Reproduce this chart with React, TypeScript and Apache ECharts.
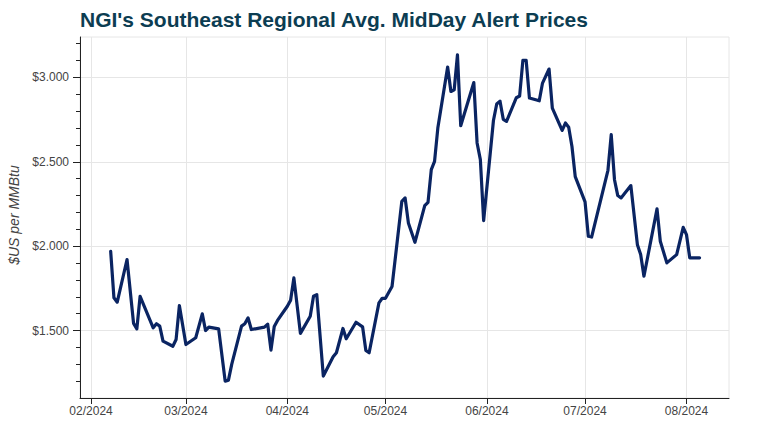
import { useEffect, useRef } from 'react';
import * as echarts from 'echarts';

const dates = [
  '2024-02-07', '2024-02-08', '2024-02-09', '2024-02-12', '2024-02-14', '2024-02-15', '2024-02-16',
  '2024-02-20', '2024-02-21', '2024-02-22', '2024-02-23', '2024-02-26', '2024-02-27', '2024-02-28',
  '2024-03-01', '2024-03-04', '2024-03-06', '2024-03-07', '2024-03-08', '2024-03-11', '2024-03-13',
  '2024-03-14', '2024-03-15', '2024-03-18', '2024-03-19', '2024-03-20', '2024-03-21', '2024-03-25',
  '2024-03-26', '2024-03-27', '2024-03-28', '2024-03-29', '2024-04-01', '2024-04-02', '2024-04-03',
  '2024-04-05', '2024-04-08', '2024-04-09', '2024-04-10', '2024-04-12', '2024-04-15', '2024-04-16',
  '2024-04-18', '2024-04-19', '2024-04-22', '2024-04-24', '2024-04-25', '2024-04-26', '2024-04-29',
  '2024-04-30', '2024-05-01', '2024-05-03', '2024-05-06', '2024-05-07', '2024-05-08', '2024-05-10',
  '2024-05-13', '2024-05-14', '2024-05-15', '2024-05-16', '2024-05-17', '2024-05-20', '2024-05-21',
  '2024-05-22', '2024-05-23', '2024-05-24', '2024-05-28', '2024-05-29', '2024-05-30', '2024-05-31',
  '2024-06-03', '2024-06-04', '2024-06-05', '2024-06-06', '2024-06-07', '2024-06-10', '2024-06-11',
  '2024-06-12', '2024-06-13', '2024-06-14', '2024-06-17', '2024-06-18', '2024-06-20', '2024-06-21',
  '2024-06-24', '2024-06-25', '2024-06-26', '2024-06-27', '2024-06-28', '2024-07-01', '2024-07-02',
  '2024-07-03', '2024-07-08', '2024-07-09', '2024-07-10', '2024-07-11', '2024-07-12', '2024-07-15',
  '2024-07-17', '2024-07-18', '2024-07-19', '2024-07-23', '2024-07-24', '2024-07-26', '2024-07-29',
  '2024-07-31', '2024-08-01', '2024-08-02', '2024-08-05',
];

const prices = [
  1.97, 1.694, 1.668, 1.921, 1.542, 1.51, 1.703,
  1.516, 1.54, 1.526, 1.437, 1.407, 1.447, 1.648,
  1.417, 1.457, 1.599, 1.5, 1.52, 1.51, 1.2,
  1.206, 1.299, 1.526, 1.54, 1.575, 1.506, 1.52,
  1.538, 1.384, 1.524, 1.56, 1.644, 1.68, 1.812,
  1.483, 1.585, 1.703, 1.713, 1.23, 1.344, 1.368,
  1.512, 1.451, 1.549, 1.522, 1.382, 1.368, 1.664,
  1.691, 1.691, 1.761, 2.266, 2.286, 2.138, 2.023,
  2.24, 2.26, 2.454, 2.503, 2.7, 3.062, 2.917,
  2.927, 3.134, 2.714, 2.97, 2.612, 2.513, 2.152,
  2.745, 2.843, 2.86, 2.752, 2.74, 2.88, 2.89,
  3.101, 3.101, 2.878, 2.862, 2.967, 3.05, 2.819,
  2.686, 2.73, 2.705, 2.591, 2.412, 2.263, 2.059,
  2.054, 2.45, 2.661, 2.394, 2.3, 2.286, 2.359,
  2.009, 1.95, 1.822, 2.221, 2.029, 1.901, 1.95,
  2.112, 2.069, 1.931, 1.931,
];

const xTickLabels = ['02/2024', '03/2024', '04/2024', '05/2024', '06/2024', '07/2024', '08/2024'];
const yTickValues = [1.5, 2.0, 2.5, 3.0];
const yMinorTickValues = [1.2, 1.3, 1.4, 1.6, 1.7, 1.8, 1.9, 2.1, 2.2, 2.3, 2.4, 2.6, 2.7, 2.8, 2.9, 3.1, 3.2];

const FONT = "'Liberation Sans', Arial, sans-serif";
const AXIS_COLOR = '#222222';
const LABEL_COLOR = '#444444';
const GRID_COLOR = '#e6e6e6';

const dateToTime = (s: string) => {
  const [y, m, d] = s.split('-').map(Number);
  return new Date(y, m - 1, d).getTime();
};
const labelToTime = (label: string) => {
  const [m, y] = label.split('/');
  return new Date(Number(y), Number(m) - 1, 1).getTime();
};
const xTickValues = xTickLabels.map(labelToTime);

export default function App() {
  const ref = useRef<HTMLDivElement>(null);

  useEffect(() => {
    if (!ref.current) return;
    const chart = echarts.init(ref.current, null, { renderer: 'svg' });
    chart.setOption({
      animation: false,
      backgroundColor: '#ffffff',
      title: {
        text: "NGI's Southeast Regional Avg. MidDay Alert Prices",
        left: 80,
        top: 9,
        padding: 0,
        textStyle: { fontFamily: FONT, fontSize: 21, fontWeight: 'bold', color: '#0c3d52' },
      },
      grid: {
        left: 80,
        right: 33,
        top: 37,
        bottom: 29,
        show: true,
        borderColor: GRID_COLOR,
        borderWidth: 1,
        containLabel: false,
        outerBoundsMode: 'none',
      },
      xAxis: {
        type: 'value',
        min: new Date(2024, 0, 28, 15).getTime(),
        max: new Date(2024, 7, 14).getTime(),
        axisLine: { show: true, onZero: false, lineStyle: { color: AXIS_COLOR, width: 1 } },
        axisTick: { show: true, customValues: xTickValues, length: 6, lineStyle: { color: AXIS_COLOR } },
        axisLabel: {
          customValues: xTickValues,
          formatter: (v: number) => xTickLabels[xTickValues.indexOf(v)] ?? '',
          color: LABEL_COLOR,
          fontFamily: FONT,
          fontSize: 12,
          margin: 7,
          hideOverlap: false,
          showMinLabel: true,
          showMaxLabel: true,
        },
        splitLine: { show: true, lineStyle: { color: GRID_COLOR, width: 1 } },
      },
      yAxis: [
        {
          type: 'value',
          min: 1.1,
          max: 3.24,
          position: 'left',
          name: '$US per MMBtu',
          nameLocation: 'middle',
          nameGap: 58,
          nameTextStyle: { fontFamily: FONT, fontStyle: 'italic', fontSize: 14, color: LABEL_COLOR, padding: [0, 0, 0, 5] },
          axisLine: { show: true, onZero: false, lineStyle: { color: AXIS_COLOR, width: 1 } },
          axisTick: { show: true, customValues: yTickValues, length: 7, lineStyle: { color: AXIS_COLOR } },
          axisLabel: {
            customValues: yTickValues,
            formatter: (v: number) => '$' + v.toFixed(3),
            color: LABEL_COLOR,
            fontFamily: FONT,
            fontSize: 12,
            margin: 11,
          },
          splitLine: { show: true, lineStyle: { color: GRID_COLOR, width: 1 } },
        },
        {
          type: 'value',
          min: 1.1,
          max: 3.24,
          position: 'left',
          axisLine: { show: false },
          axisTick: { show: true, customValues: yMinorTickValues, length: 4, lineStyle: { color: AXIS_COLOR } },
          axisLabel: { show: false },
          splitLine: { show: false },
        },
      ],
      series: [
        {
          type: 'line',
          xAxisIndex: 0,
          yAxisIndex: 0,
          data: dates.map((d, i) => [dateToTime(d), prices[i]]),
          showSymbol: false,
          symbol: 'none',
          lineStyle: { color: '#0a2462', width: 3.2, join: 'round', cap: 'round' },
        },
      ],
    });
    return () => chart.dispose();
  }, []);

  return (
    <div
      ref={ref}
      style={{ position: 'absolute', left: 0, top: 0, width: 762, height: 427 }}
    />
  );
}
